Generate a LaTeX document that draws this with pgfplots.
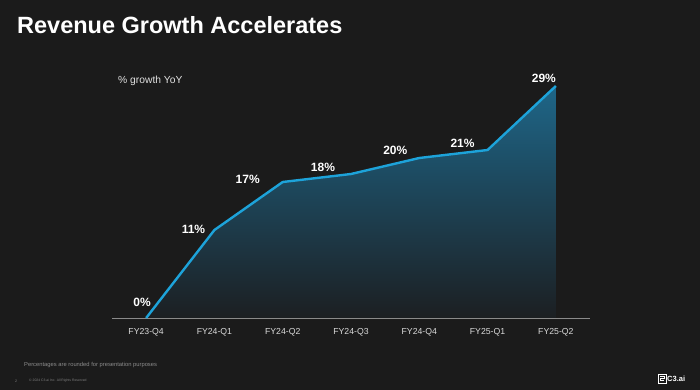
\documentclass[border=0pt]{standalone}
\usepackage{pgfplots}
\pgfplotsset{compat=1.18}
\usepackage{fontspec}
\setmainfont{Liberation Sans}
\definecolor{bg}{HTML}{1B1B1B}
\definecolor{linec}{HTML}{1DA3DA}
\definecolor{filltop}{HTML}{1E6688}
\definecolor{fillbot}{HTML}{1C1F22}
\definecolor{axisc}{HTML}{8A8A8A}
\begin{document}
\begin{tikzpicture}[x=1pt,y=1pt]
\fill[bg] (0,0) rectangle (700,390);
\node[anchor=base west, inner sep=0, text=white, font=\fontsize{23.5}{26}\selectfont\bfseries] at (17,356) {Revenue Growth Accelerates};
\node[anchor=base west, inner sep=0, text=white!88!black, font=\fontsize{10.3}{12}\selectfont] at (118,306) {\% growth YoY};
\begin{axis}[
  at={(112pt,72pt)}, anchor=south west,
  scale only axis, width=478pt, height=240pt,
  xmin=-0.5, xmax=6.5, ymin=0, ymax=30,
  axis x line=bottom, axis y line=none,
  x axis line style={-, color=axisc, line width=0.8pt},
  xtick={0,1,2,3,4,5,6},
  xticklabels={FY23-Q4,FY24-Q1,FY24-Q2,FY24-Q3,FY24-Q4,FY25-Q1,FY25-Q2},
  xtick style={draw=none},
  xticklabel style={anchor=center, yshift=-12pt, text=white!85!black, font=\fontsize{8.7}{10}\selectfont},
  clip=false,
  /pgf/number format/assume math mode=true,
]
\addplot[draw=none, shading=axis, top color=filltop, bottom color=fillbot, forget plot]
  table[x=x, y=y] {
x y dx dy
0 0 -4 16
1 11 -21 1
2 17 -35 3
3 18 -28 7
4 20 -24 8
5 21 -25 7
6 29 -12 8
} \closedcycle;
\addplot[color=linec, line width=2.4pt, line join=round, mark=none,
  point meta=y,
  visualization depends on={\thisrow{dx} \as \dx},
  visualization depends on={\thisrow{dy} \as \dy},
  nodes near coords={\pgfmathprintnumber{\pgfplotspointmeta}\%},
  every node near coord/.append style={anchor=center, xshift=\dx pt, yshift=\dy pt, text=white, font=\fontsize{12}{14}\selectfont\bfseries, inner sep=0pt},
]
  table[x=x, y=y] {
x y dx dy
0 0 -4 16
1 11 -21 1
2 17 -35 3
3 18 -28 7
4 20 -24 8
5 21 -25 7
6 29 -12 8
};
\end{axis}
\node[anchor=west, inner sep=0, text=white!55!black, font=\fontsize{5.8}{7}\selectfont] at (24,25) {Percentages are rounded for presentation purposes};
\node[anchor=west, inner sep=0, text=white!50!black, font=\fontsize{3.6}{4}\selectfont] at (15,9) {2};
\node[anchor=west, inner sep=0, text=white!50!black, font=\fontsize{3.4}{4}\selectfont] at (29,9) {\textcopyright{} 2024 C3.ai Inc. All Rights Reserved};
\draw[white, line width=0.7pt] (658,7) rectangle (666,16);
\draw[white, line width=0.6pt] (660,13.5) -- (664,13.5) -- (664,11.5) -- (660,11.5) -- (660,9.5) -- (664,9.5);
\node[anchor=west, inner sep=0, text=white, font=\fontsize{7.5}{8}\selectfont\bfseries] at (667,11.5) {C3.ai};
\pgfresetboundingbox
\useasboundingbox (0,0) rectangle (700,390);
\end{tikzpicture}
\end{document}
